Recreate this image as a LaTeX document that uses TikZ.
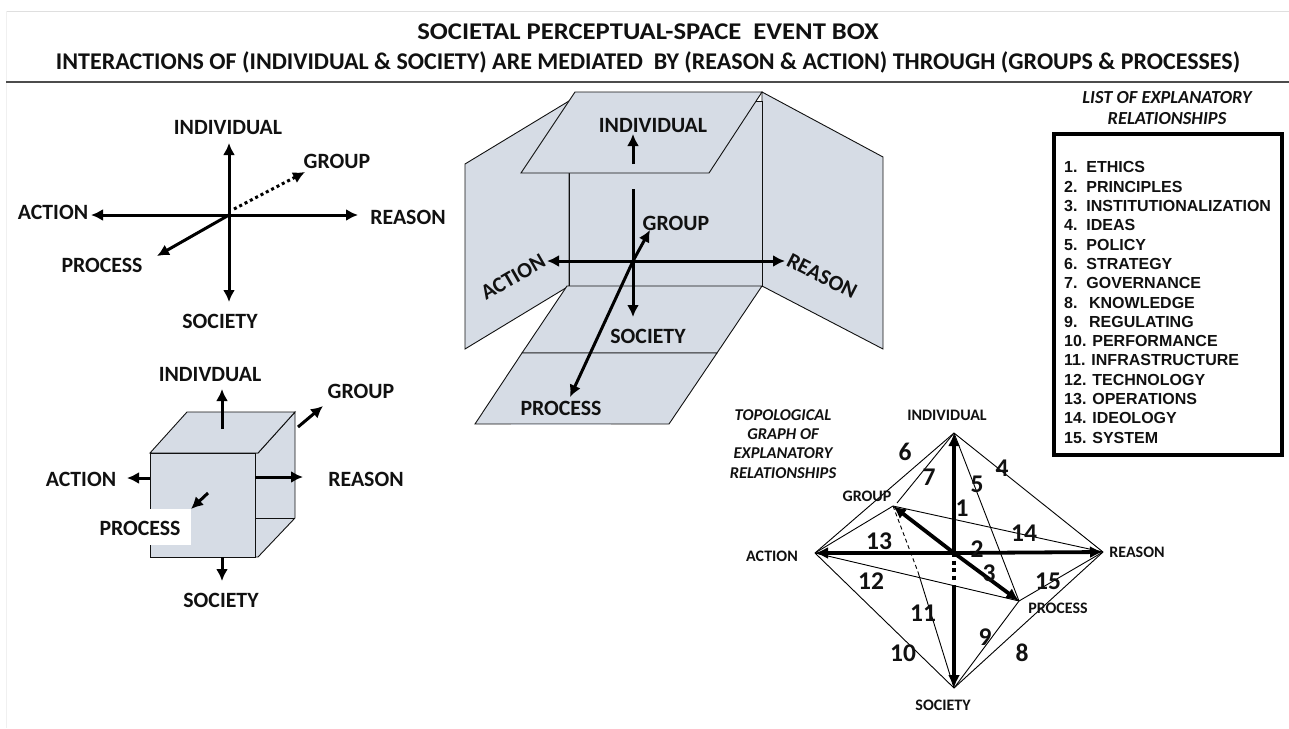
\documentclass[tikz,border=0pt]{standalone}
\usepackage{fontspec}
\setmainfont{Carlito}
\newfontfamily\listfont{Liberation Sans}
\usetikzlibrary{arrows.meta}
\definecolor{panelblue}{HTML}{D6DCE5}
\definecolor{inkdark}{HTML}{111111}
\begin{document}
\begin{tikzpicture}[
  x=1pt, y=-1pt,
  lbl/.style={font=\fontsize{21.8}{24}\selectfont\bfseries, inner sep=0pt, text=inkdark},
  smalllbl/.style={font=\fontsize{16}{18}\selectfont\bfseries, inner sep=0pt, text=inkdark},
  num/.style={font=\fontsize{25.5}{27}\selectfont\bfseries, inner sep=0pt, text=inkdark},
  heading/.style={font=\fontsize{16.5}{19.2}\selectfont\bfseries\itshape, inner sep=0pt, align=center, text=inkdark},
  panel/.style={draw=inkdark, fill=panelblue, line width=0.9pt, line join=miter},
  thinline/.style={draw=black, line width=0.9pt},
  arr/.style={-{Latex[length=12pt,width=12pt]}, line width=3pt, black},
  heavy/.style={-{Latex[length=13pt,width=12pt]}, line width=3.8pt, black}]
  \useasboundingbox (0,0) rectangle (1289,728);
  \draw[gray!25, line width=1pt] (1289,11) -- (6,11);
  \draw[gray!12, line width=1pt] (6,11) -- (6,728);
  \draw[black!70, line width=2pt] (6,82) -- (1289,82);
  \node[lbl, font=\fontsize{24}{26}\selectfont\bfseries] (title) at (648,32) {\scalebox{1.11}[1]{SOCIETAL PERCEPTUAL-SPACE\ \ EVENT BOX}};
  \node[lbl, font=\fontsize{24}{26}\selectfont\bfseries] (subtitle) at (648,62) {INTERACTIONS OF (INDIVIDUAL \& SOCIETY) ARE MEDIATED\ \ BY (REASON \& ACTION) THROUGH (GROUPS \& PROCESSES)};

  \coordinate (ac) at (229,215);
  \node[lbl] (ai) at (228,128) {INDIVIDUAL};
  \node[lbl] (ag) at (337,161) {GROUP};
  \node[lbl] (aa) at (53,212) {ACTION};
  \node[lbl] (ar) at (408,217) {REASON};
  \node[lbl] (ap) at (102,265) {PROCESS};
  \node[lbl] (as) at (220,321) {SOCIETY};
  \coordinate (aitip) at (229,143);
  \coordinate (astip) at (229,302);
  \coordinate (aatip) at (91,215);
  \coordinate (artip) at (358,215);
  \coordinate (aptip) at (157,256);
  \coordinate (agbase) at (234,209);
  \coordinate (agtip) at (305,172);
  \draw[arr] (ac) -- (aitip);
  \draw[arr] (ac) -- (astip);
  \draw[arr] (ac) -- (aatip);
  \draw[arr] (ac) -- (artip);
  \draw[arr] (ac) -- (aptip);
  \draw[arr, dash pattern=on 3pt off 3pt] (agbase) -- (agtip);

  \draw[panel] (295,412) -- (295,518) -- (258,557) -- (255,557) -- (255,453) -- (258,453) -- cycle;
  \draw[panel] (255,518) -- (295,518);
  \draw[panel] (150,453) -- (187,412) -- (295,412) -- (258,453) -- cycle;
  \draw[panel] (150,453) rectangle (255,557);
  \fill[white] (148,509) rectangle (191,545);
  \node[lbl] (ci) at (210,375) {INDIVDUAL};
  \node[lbl] (cg) at (361,391) {GROUP};
  \node[lbl] (ca) at (81,479) {ACTION};
  \node[lbl] (cr) at (366,479) {REASON};
  \node[lbl] (cp) at (140,528) {PROCESS};
  \node[lbl] (cs) at (221,600) {SOCIETY};
  \draw[arr] (222,429) coordinate (cib) -- (222,389) coordinate (cit);
  \draw[arr] (298,427) coordinate (cgb) -- (323,406) coordinate (cgt);
  \draw[arr] (150,478) coordinate (cab) -- (127,478) coordinate (cat);
  \draw[arr] (255,477) coordinate (crb) -- (303,477) coordinate (crt);
  \draw[arr] (208,493) coordinate (cpb) -- (191,509) coordinate (cpt);
  \draw[arr] (222,557) coordinate (csb) -- (222,581) coordinate (cst);

  \draw[panel] (569,101) -- (465,164) -- (465,349) -- (569,286) -- cycle;
  \draw[panel] (762,92) -- (883,157) -- (883,349) -- (762,286) -- cycle;
  \draw[panel] (569,101) rectangle (762,286);
  \draw[panel] (567,286) -- (762,286) -- (717,353) -- (522,353) -- cycle;
  \draw[panel] (522,353) -- (717,353) -- (669,424) -- (475,424) -- cycle;
  \draw[panelblue!70!gray, line width=1pt] (511,424) -- (611,424);
  \draw[panel] (575,92) -- (762,92) -- (709,173) -- (521,173) -- cycle;
  \coordinate (bc) at (633,261);
  \node[lbl] (bi) at (653,126) {INDIVIDUAL};
  \node[lbl] (bg) at (676,223) {GROUP};
  \node[lbl] (bs) at (648,336) {SOCIETY};
  \node[lbl] (bp) at (561,408) {PROCESS};
  \node[lbl, rotate=30] (ba) at (513,277) {ACTION};
  \node[lbl, rotate=-27] (br) at (822,276) {REASON};
  \draw[arr] (633,164) coordinate (bub) -- (633,134) coordinate (but);
  \draw[arr] (633,189) coordinate (bvt) -- (633,317) coordinate (bvb);
  \draw[arr] (bc) -- (547,261) coordinate (bat);
  \draw[arr] (bc) -- (785,261) coordinate (brt);
  \draw[arr] (bc) -- (650,230) coordinate (bgt);
  \draw[arr] (bc) -- (570,397) coordinate (bpt);

  \node[heading, font=\fontsize{18.4}{21}\selectfont\bfseries\itshape] (lhead) at (1167,108.5) {LIST OF EXPLANATORY\\ RELATIONSHIPS};
  \node[draw=black, line width=4pt, minimum width=228pt, minimum height=321pt, inner sep=0pt] (lbox) at (1168,294.5) {};
  \node[font=\listfont\fontsize{16}{19.3}\selectfont\bfseries, align=left, inner sep=0pt, anchor=west, text=inkdark] (litems) at (1064,302.5) {1.\ \ ETHICS\\ 2.\ \ PRINCIPLES\\ 3.\ \ INSTITUTIONALIZATION\\ 4.\ \ IDEAS\\ 5.\ \ POLICY\\ 6.\ \ STRATEGY\\ 7.\ \ GOVERNANCE\\ 8.\ \ \,KNOWLEDGE\\ 9.\ \ \,REGULATING\\ 10. PERFORMANCE\\ 11. INFRASTRUCTURE\\ 12. TECHNOLOGY\\ 13. OPERATIONS\\ 14. IDEOLOGY\\ 15. SYSTEM};

  \node[heading] (ghead) at (783,444) {TOPOLOGICAL\\ GRAPH OF\\ EXPLANATORY\\ RELATIONSHIPS};
  \coordinate (gc) at (954,553);
  \coordinate (ind) at (954,433);
  \coordinate (soc) at (954,688);
  \coordinate (act) at (815,553);
  \coordinate (rea) at (1103,552);
  \coordinate (grp) at (893,506);
  \coordinate (pro) at (1019,601);
  \draw[thinline] (ind) -- (act);
  \draw[thinline] (ind) -- (rea);
  \draw[thinline] (ind) -- (897,503) coordinate (grpup);
  \draw[thinline] (ind) -- (pro);
  \draw[thinline] (act) -- (grp);
  \draw[thinline] (grp) -- (rea);
  \draw[thinline] (act) -- (pro);
  \draw[thinline] (act) -- (soc);
  \draw[thinline] (pro) -- (rea);
  \draw[thinline] (rea) -- (soc);
  \draw[thinline] (pro) -- (soc);
  \draw[thinline, dash pattern=on 4pt off 3pt] (grp) -- (918,572) coordinate (brk);
  \draw[thinline] (brk) -- (soc);
  \draw[heavy] (gc) -- (ind);
  \draw[heavy] (gc) -- (act);
  \draw[heavy] (gc) -- (rea);
  \draw[heavy] (gc) -- (grp);
  \draw[heavy] (gc) -- (pro);
  \draw[heavy, -, dash pattern=on 4pt off 3.5pt] (gc) -- (954,582) coordinate (dotend);
  \draw[heavy] (954,585) coordinate (vstart) -- (soc);
  \node[smalllbl] (gi) at (947,415) {INDIVIDUAL};
  \node[smalllbl] (ga) at (772,556) {ACTION};
  \node[smalllbl] (gr) at (1137,552) {REASON};
  \node[smalllbl] (gg) at (867,496) {GROUP};
  \node[smalllbl] (gp) at (1058,608) {PROCESS};
  \node[smalllbl] (gs) at (943,705) {SOCIETY};
  \node[num] (n1) at (962,508) {1};
  \node[num] (n2) at (977,549) {2};
  \node[num] (n3) at (989,573) {3};
  \node[num] (n4) at (1002,468) {4};
  \node[num] (n5) at (977,484) {5};
  \node[num] (n6) at (905,452) {6};
  \node[num] (n7) at (929,477) {7};
  \node[num] (n8) at (1022,653) {8};
  \node[num] (n9) at (985,637) {9};
  \node[num] (n10) at (903,653) {10};
  \node[num] (n11) at (923,613) {11};
  \node[num] (n12) at (871,581) {12};
  \node[num] (n13) at (879,541) {13};
  \node[num] (n14) at (1024,533) {14};
  \node[num] (n15) at (1048,581) {15};
\end{tikzpicture}
\end{document}
